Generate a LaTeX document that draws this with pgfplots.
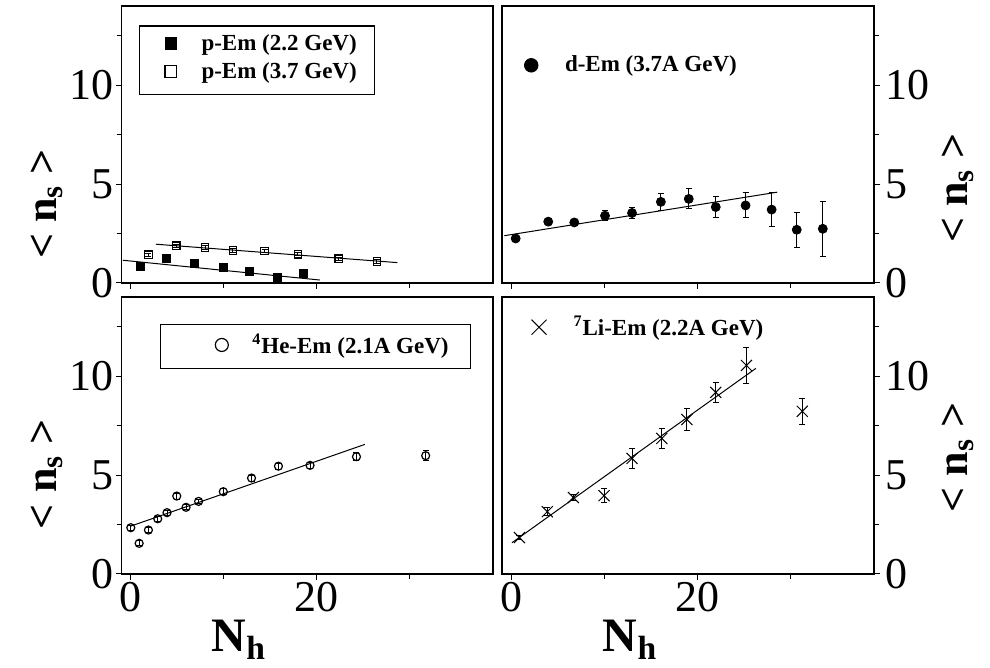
\documentclass[border=0pt]{standalone}
\usepackage{fontspec}
\setmainfont{Liberation Serif}
\usepackage{pgfplots}
\pgfplotsset{compat=1.18}

\pgfplotstableread{
x y
1.0 0.83
3.8 1.23
6.9 1.00
10.0 0.78
12.8 0.61
15.8 0.27
18.6 0.46
}\pEmA
\pgfplotstableread{
x y e
1.9 1.42 0.08
4.9 1.88 0.08
8.0 1.79 0.08
11.0 1.64 0.08
14.4 1.62 0.08
18.0 1.46 0.08
22.4 1.22 0.08
26.5 1.08 0.10
}\pEmB
\pgfplotstableread{
x y e
0.5 2.25 0.12
4.0 3.10 0.12
6.8 3.06 0.15
10.1 3.40 0.26
13.0 3.54 0.30
16.1 4.10 0.44
19.1 4.25 0.51
22.0 3.84 0.52
25.2 3.92 0.63
28.0 3.71 0.88
30.7 2.69 0.88
33.5 2.74 1.40
}\dEm
\pgfplotstableread{
x y e
0.0 2.34 0.12
0.9 1.55 0.12
1.9 2.22 0.12
2.9 2.79 0.12
3.9 3.10 0.12
4.95 3.94 0.15
5.95 3.37 0.12
7.3 3.67 0.12
9.96 4.16 0.15
13.0 4.85 0.15
15.9 5.45 0.15
19.3 5.49 0.15
24.3 5.93 0.20
31.75 5.98 0.25
}\HeEm
\pgfplotstableread{
x y e
0.9 1.84 0.10
3.9 3.15 0.20
6.7 3.87 0.15
10.0 3.96 0.37
13.0 5.84 0.49
16.2 6.85 0.50
18.9 7.81 0.55
22.0 9.18 0.50
25.3 10.54 0.90
31.3 8.22 0.65
}\LiEm

\newcommand{\nslabel}{\fontsize{22}{22}\selectfont\bfseries < n\textsubscript{s} >}
\newcommand{\nhlabel}{\fontsize{24}{24}\selectfont\bfseries N\textsubscript{h}}

\pgfplotsset{
  panel/.style={
    scale only axis, width=185.75pt, height=138.5pt,
    xmin=-1, xmax=39, ymin=0, ymax=14,
    xtick={0,20}, minor xtick={10,30},
    ytick={0,5,10}, minor ytick={2.5,7.5,12.5},
    tick align=outside, major tick length=3pt, minor tick length=2.5pt,
    xtick pos=left,
    axis line style={line width=0.8pt},
    every tick/.style={black, line width=0.5pt},
    tick label style={font=\fontsize{22}{22}\selectfont, inner sep=1pt},
    /pgf/number format/assume math mode=true,
    clip=false,
    legend style={font=\fontsize{11.5}{13}\selectfont\bfseries, draw=none, fill=none,
      anchor=north west, inner sep=0pt, row sep=0.5pt},
    legend cell align=left,
    error bars/y dir=both, error bars/y explicit,
    error bars/error bar style={line width=0.5pt, black},
    error bars/error mark options={rotate=90, mark size=1.5pt, line width=0.5pt, black},
  },
  leftpanel/.style={panel, ytick pos=left,
    ylabel={\nslabel},
  },
  rightpanel/.style={panel, ytick pos=right, yticklabel pos=right,
    yticklabel style={xshift=1.5pt},
    ylabel={\nslabel},
  },
}

\begin{document}
\begin{tikzpicture}
\path[use as bounding box] (0,0) rectangle (495pt,334pt);

% top-left
\begin{axis}[leftpanel, at={(60.75pt,192.5pt)}, anchor=south west,
  xticklabels={},
  ylabel style={at={(axis description cs:-0.2,0.285)}, anchor=center, rotate=0},
  legend style={at={(axis description cs:0.1158,0.914)},
    /tikz/every odd column/.append style={column sep=10.5pt}},
  legend image post style={mark size=2.9pt}]
\draw[line width=0.6pt] (axis description cs:0.048,0.928) rectangle (axis description cs:0.680,0.681);
\addplot[only marks, mark=square*, mark size=2pt, black] table[x=x,y=y] {\pEmA};
\addlegendentry{p-Em (2.2 GeV)}
\addplot[only marks, mark=square, mark size=1.9pt, black, mark options={line width=0.6pt}] table[x=x,y=y,y error=e] {\pEmB};
\addlegendentry{p-Em (3.7 GeV)}
\addplot[black, line width=0.5pt, no marks, forget plot] coordinates {(-0.86,1.15) (20.35,0.15)};
\addplot[black, line width=0.5pt, no marks, forget plot] coordinates {(2.7,1.96) (28.7,1.03)};
\end{axis}

% top-right
\begin{axis}[rightpanel, at={(250.85pt,192.5pt)}, anchor=south west, width=186.15pt,
  xticklabels={},
  ylabel style={at={(axis description cs:1.226,0.343)}, anchor=center, rotate=0},
  legend style={at={(axis description cs:0.06,0.836)},
    /tikz/every odd column/.append style={column sep=11.5pt}},
  legend image post style={mark size=3.4pt}]
\addplot[only marks, mark=*, mark size=2.25pt, black] table[x=x,y=y,y error=e] {\dEm};
\addlegendentry{d-Em (3.7A GeV)}
\addplot[black, line width=0.5pt, no marks, forget plot] coordinates {(-0.72,2.39) (28.6,4.59)};
\end{axis}

% bottom-left
\begin{axis}[leftpanel, at={(60.75pt,47pt)}, anchor=south west,
  xlabel={\nhlabel},
  xlabel style={at={(axis description cs:0.316,-0.238)}, anchor=center},
  ylabel style={at={(axis description cs:-0.2,0.36)}, anchor=center, rotate=0},
  legend style={at={(axis description cs:0.2515,0.883)},
    /tikz/every odd column/.append style={column sep=10pt}},
  legend image post style={mark size=3.25pt}]
\draw[line width=0.6pt] (axis description cs:0.1055,0.901) rectangle (axis description cs:0.94,0.742);
\addplot[only marks, mark=o, mark size=2pt, black, mark options={line width=0.6pt}] table[x=x,y=y,y error=e] {\HeEm};
\addlegendentry{\textsuperscript{4}He-Em (2.1A GeV)}
\addplot[black, line width=0.5pt, no marks, forget plot] coordinates {(0,2.42) (25.2,6.55)};
\end{axis}

% bottom-right
\begin{axis}[rightpanel, at={(250.85pt,47pt)}, anchor=south west, width=186.15pt,
  xlabel={\nhlabel},
  xlabel style={at={(axis description cs:0.345,-0.238)}, anchor=center},
  ylabel style={at={(axis description cs:1.226,0.42)}, anchor=center, rotate=0},
  legend style={at={(axis description cs:0.079,0.947)},
    /tikz/every odd column/.append style={column sep=11.5pt}},
  legend image post style={mark size=5.3pt}]
\addplot[only marks, mark=x, mark size=3.9pt, black, mark options={line width=0.5pt}] table[x=x,y=y,y error=e] {\LiEm};
\addlegendentry{\textsuperscript{7}Li-Em (2.2A GeV)}
\addplot[black, line width=0.5pt, no marks, forget plot] coordinates {(0.1,1.58) (26.3,10.39)};
\end{axis}
\end{tikzpicture}
\end{document}
